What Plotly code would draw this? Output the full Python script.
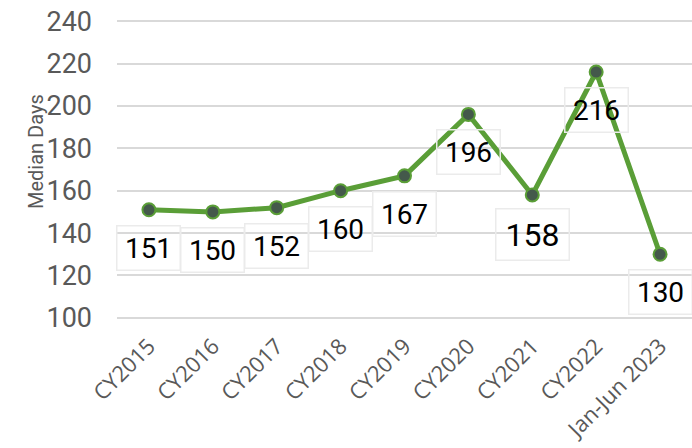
import plotly.graph_objects as go

categories = ["CY2015", "CY2016", "CY2017", "CY2018", "CY2019", "CY2020", "CY2021", "CY2022", "Jan-Jun 2023"]
median_days = [151, 150, 152, 160, 167, 196, 158, 216, 130]
y_ticks = [100, 120, 140, 160, 180, 200, 220, 240]

fig = go.Figure()
fig.add_trace(go.Scatter(
    x=categories, y=median_days, mode="lines+markers",
    line=dict(color="#5A9E37", width=5),
    marker=dict(size=13, color="#44594B", line=dict(color="#5A9E37", width=2)),
    hoverinfo="skip", showlegend=False,
))

annotations = []
for c, v in zip(categories, median_days):
    big = (c == "CY2021")
    annotations.append(dict(
        x=c, y=v, xref="x", yref="y", text=str(v), showarrow=False,
        yshift=-38 if not big else -40,
        font=dict(family="Roboto", size=32 if big else 28, color="#000000"),
        bgcolor="rgba(255,255,255,0)", bordercolor="#EBEBEB", borderwidth=1.5,
        width=70 if big else 60, height=48 if big else 41, borderpad=1,
    ))

W, H = 692, 448
ml, mr, mt, mb = 117, 0, 19, 128
pw, ph = W - ml - mr, H - mt - mb
annotations.append(dict(
    x=(22 - ml) / pw, y=(H - mb - 152) / ph, xref="paper", yref="paper",
    text="Median Days", showarrow=False, textangle=-90,
    font=dict(family="Roboto", size=20, color="#595959"),
))

fig.update_layout(
    width=W, height=H,
    margin=dict(l=ml, r=mr, t=mt, b=mb),
    paper_bgcolor="white", plot_bgcolor="white",
    annotations=annotations,
    xaxis=dict(
        type="category", range=[-0.5, 8.5], showgrid=False, showline=False,
        tickangle=-45, ticks="", automargin=False, ticklabelstandoff=8,
        tickfont=dict(family="Open Sans", size=22, color="#595959"),
    ),
    yaxis=dict(
        range=[99, 241], tickvals=y_ticks, showgrid=True, gridcolor="#D9D9D9", gridwidth=1.5,
        zeroline=False, showline=False, ticks="", automargin=False, ticklabelstandoff=24,
        tickfont=dict(family="Roboto", size=27, color="#595959"),
    ),
)

fig.write_html("out.html", config={"displayModeBar": False},
               post_script="document.body.style.margin='0';document.body.style.padding='0';")
